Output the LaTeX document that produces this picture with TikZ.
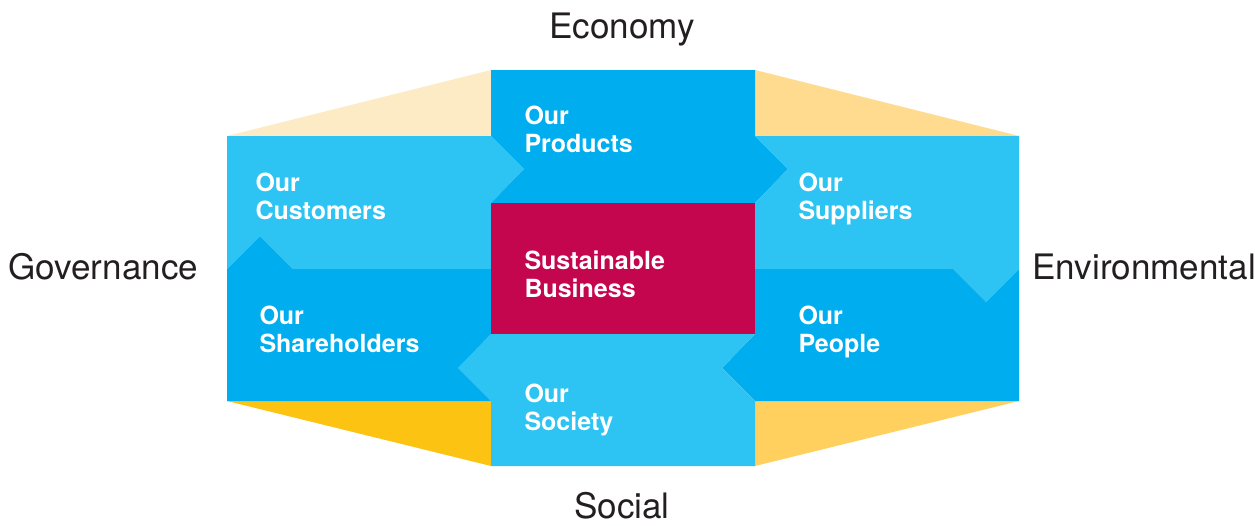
\documentclass[tikz,border=0pt]{standalone}
\usepackage{fontspec}
\setmainfont{TeX Gyre Heros}
\definecolor{skylight}{RGB}{45,196,243}
\definecolor{skydark}{RGB}{0,174,239}
\definecolor{berry}{RGB}{196,6,79}
\definecolor{creampale}{RGB}{253,235,198}
\definecolor{creamgold}{RGB}{254,219,142}
\definecolor{sunyellow}{RGB}{253,195,19}
\definecolor{sunsoft}{RGB}{255,208,93}
\definecolor{inkgrey}{RGB}{35,31,32}

\tikzset{every picture/.style={line width=0.75pt}}
\tikzset{
	boxlabel/.style={anchor=north west, inner sep=0.75pt, align=left, text=white, font=\fontsize{18.75}{21.4}\selectfont\bfseries},
	sidelabel/.style={inner sep=0.75pt, text=inkgrey, font=\fontsize{26.3}{30}\selectfont}
}

\begin{document}
\begin{tikzpicture}[x=0.75pt,y=0.75pt,yscale=-1,xscale=1]
		\useasboundingbox (0,0) rectangle (1255,525);

		%Shape: Triangle [top left]
		\fill [creampale] (227,136) -- (491,70) -- (491,136) -- cycle ;
		%Shape: Triangle [top right]
		\fill [creamgold] (755,70) -- (1019,136) -- (755,136) -- cycle ;
		%Shape: Triangle [bottom left]
		\fill [sunyellow] (227,401) -- (491,401) -- (491,466) -- cycle ;
		%Shape: Triangle [bottom right]
		\fill [sunsoft] (755,401) -- (1019,401) -- (755,466) -- cycle ;

		%Shape: Polygon [customers]
		\fill [skylight] (227,136) -- (491,136) -- (524,169) -- (491,203) -- (491,269) -- (293,269) -- (260,236) -- (227,269) -- cycle ;
		%Shape: Polygon [products]
		\fill [skydark] (491,70) -- (755,70) -- (755,136) -- (788,169) -- (755,203) -- (491,203) -- (524,169) -- (491,136) -- cycle ;
		%Shape: Polygon [suppliers]
		\fill [skylight] (755,136) -- (1019,136) -- (1019,269) -- (986,302) -- (953,269) -- (755,269) -- (755,203) -- (788,169) -- cycle ;
		%Shape: Polygon [people]
		\fill [skydark] (755,269) -- (953,269) -- (986,302) -- (1019,269) -- (1019,401) -- (755,401) -- (722,368) -- (755,334) -- cycle ;
		%Shape: Polygon [society]
		\fill [skylight] (491,334) -- (755,334) -- (722,368) -- (755,401) -- (755,466) -- (491,466) -- (491,401) -- (458,368) -- cycle ;
		%Shape: Polygon [shareholders]
		\fill [skydark] (227,269) -- (260,236) -- (293,269) -- (491,269) -- (491,334) -- (458,368) -- (491,401) -- (227,401) -- cycle ;
		%Shape: Rectangle [hub]
		\fill [berry] (491,203) rectangle (755,334) ;

		% Text Node
		\node [boxlabel] (customers) at (254,171) {Our\\Customers};
		% Text Node
		\node [boxlabel] (products) at (523,104) {Our\\Products};
		% Text Node
		\node [boxlabel] (suppliers) at (797,171) {Our\\Suppliers};
		% Text Node
		\node [boxlabel] (hub) at (523,249) {Sustainable\\Business};
		% Text Node
		\node [boxlabel] (shareholders) at (258,304) {Our\\Shareholders};
		% Text Node
		\node [boxlabel] (people) at (797,304) {Our\\People};
		% Text Node
		\node [boxlabel] (society) at (523,382) {Our\\Society};

		% Text Node
		\node [sidelabel, anchor=base] (economy) at (622,38) {Economy};
		% Text Node
		\node [sidelabel, anchor=base west] (governance) at (7,279) {Governance};
		% Text Node
		\node [sidelabel, anchor=base west] (environmental) at (1031,279) {Environmental};
		% Text Node
		\node [sidelabel, anchor=base] (social) at (622,518) {Social};
	\end{tikzpicture}
\end{document}
